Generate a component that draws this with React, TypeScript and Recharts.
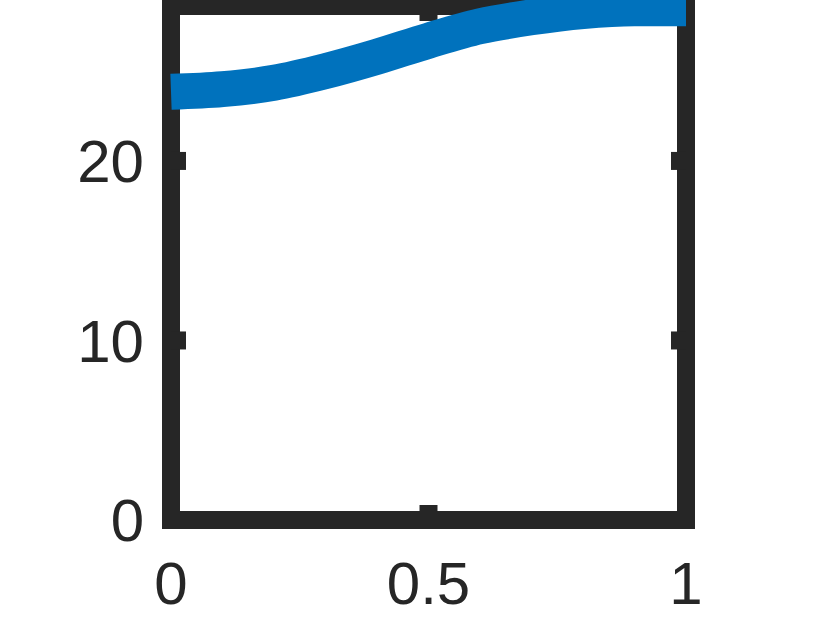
import { LineChart, Line, XAxis, YAxis } from "recharts";

const xs = [0, 0.1, 0.2, 0.3, 0.4, 0.5, 0.6, 0.7, 0.8, 0.9, 1];
const ys = [23.85, 24.0, 24.35, 25.0, 25.8, 26.7, 27.5, 28.0, 28.35, 28.5, 28.5];
const xTicks = [0, 0.5, 1];
const yTicks = [0, 10, 20];
const yMax = 28.63;

const data = xs.map((x, i) => ({ x, y: ys[i] }));

const ink = "#262626";
const axisLine = { stroke: ink, strokeWidth: 18, strokeLinecap: "square" as const };
const tickLine = { stroke: ink, strokeWidth: 18 };
const font = { fontFamily: "'Liberation Sans', Arial, sans-serif", fontSize: 60, fill: ink };
const blank = () => "";

export default function App() {
  return (
    <div style={{ position: "absolute", left: 0, top: 0, width: 830, height: 625, background: "#fff" }}>
      <LineChart width={830} height={625} data={data} margin={{ top: 5, right: 143, left: 0, bottom: 0 }}>
        <XAxis
          dataKey="x"
          type="number"
          domain={[0, 1]}
          ticks={xTicks}
          height={105}
          axisLine={axisLine}
          tickLine={tickLine}
          tickSize={-15}
          tickMargin={56}
          tick={font}
          tickFormatter={(v) => String(v)}
        />
        <XAxis
          xAxisId="top"
          orientation="top"
          dataKey="x"
          type="number"
          domain={[0, 1]}
          ticks={xTicks}
          height={1}
          axisLine={axisLine}
          tickLine={tickLine}
          tickSize={-15}
          tick={font}
          tickFormatter={blank}
        />
        <YAxis
          type="number"
          domain={[0, yMax]}
          ticks={yTicks}
          width={171}
          axisLine={axisLine}
          tickLine={tickLine}
          tickSize={-15}
          tickMargin={42}
          tick={font}
        />
        <YAxis
          yAxisId="right"
          orientation="right"
          type="number"
          domain={[0, yMax]}
          ticks={yTicks}
          width={1}
          axisLine={axisLine}
          tickLine={tickLine}
          tickSize={-15}
          interval={0}
          tick={font}
          tickFormatter={blank}
        />
        <Line
          yAxisId="right"
          xAxisId="top"
          dataKey="y"
          stroke="none"
          dot={false}
          legendType="none"
          isAnimationActive={false}
        />
        <Line
          type="monotone"
          dataKey="y"
          stroke="#0072BD"
          strokeWidth={36}
          strokeLinecap="butt"
          dot={false}
          isAnimationActive={false}
          zIndex={600}
        />
      </LineChart>
    </div>
  );
}
